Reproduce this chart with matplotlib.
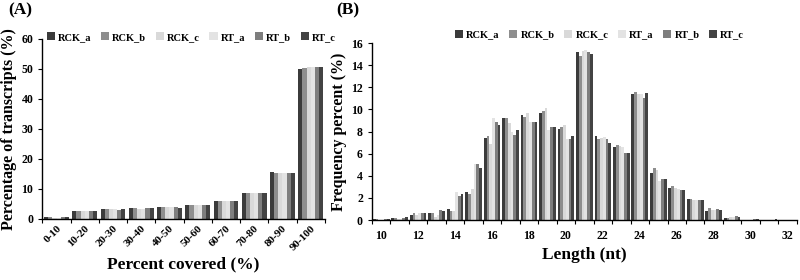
import matplotlib
matplotlib.use("Agg")
import matplotlib.pyplot as plt
import numpy as np

plt.rcParams["font.family"] = ["Liberation Serif", "DejaVu Serif"]
plt.rcParams["font.weight"] = "bold"
plt.rcParams["axes.labelweight"] = "bold"

series = ["RCK_a", "RCK_b", "RCK_c", "RT_a", "RT_b", "RT_c"]
colors = ["#3b3b3b", "#8e8e8e", "#d9d9d9", "#e3e3e3", "#7e7e7e", "#434343"]

# Panel A: coverage bins
cover_bins = ["0-10", "10-20", "20-30", "30-40", "40-50",
              "50-60", "60-70", "70-80", "80-90", "90-100"]
cover_vals = {
    "RCK_a": [0.7, 2.7, 3.2, 3.5, 4.0, 4.8, 6.1, 8.8, 15.5, 50.0],
    "RCK_b": [0.6, 2.7, 3.2, 3.5, 4.0, 4.6, 6.1, 8.7, 15.3, 50.3],
    "RCK_c": [0.3, 2.6, 3.2, 3.4, 3.9, 4.6, 6.0, 8.6, 15.2, 50.6],
    "RT_a":  [0.3, 2.6, 3.2, 3.4, 3.9, 4.6, 6.0, 8.6, 15.2, 50.8],
    "RT_b":  [0.6, 2.6, 3.1, 3.5, 3.9, 4.6, 5.9, 8.7, 15.3, 50.8],
    "RT_c":  [0.8, 2.7, 3.2, 3.5, 3.8, 4.6, 6.1, 8.7, 15.3, 50.8],
}

# Panel B: length distribution
lengths = list(range(10, 33))
len_vals = {
    "RCK_a": [0.10, 0.15, 0.5, 0.65, 1.0, 2.5, 7.4, 9.2, 9.5, 9.7, 8.2, 15.2, 7.6, 6.6, 11.4, 4.3, 2.9, 1.9, 0.8, 0.2, 0.05, 0.02, 0.0],
    "RCK_b": [0.10, 0.20, 0.6, 0.60, 0.8, 2.4, 7.6, 9.2, 9.3, 9.9, 8.4, 14.8, 7.3, 6.8, 11.6, 4.7, 3.1, 1.9, 1.1, 0.2, 0.05, 0.02, 0.0],
    "RCK_c": [0.05, 0.10, 0.5, 0.30, 0.8, 2.8, 6.9, 8.8, 9.7, 10.1, 8.6, 15.3, 7.4, 6.7, 11.4, 4.5, 2.9, 1.8, 0.9, 0.3, 0.05, 0.02, 0.0],
    "RT_a":  [0.05, 0.10, 0.6, 0.50, 2.5, 5.1, 9.2, 8.0, 8.9, 8.1, 7.3, 15.4, 7.5, 6.6, 11.4, 3.5, 2.8, 1.8, 0.9, 0.3, 0.05, 0.02, 0.0],
    "RT_b":  [0.10, 0.20, 0.6, 0.90, 2.2, 5.1, 8.9, 7.7, 8.9, 8.4, 7.3, 15.2, 7.3, 6.1, 11.0, 3.7, 2.7, 1.8, 1.0, 0.4, 0.10, 0.05, 0.0],
    "RT_c":  [0.10, 0.25, 0.6, 0.80, 2.4, 4.7, 8.6, 8.1, 8.9, 8.4, 7.6, 15.0, 7.0, 6.1, 11.5, 3.7, 2.7, 1.8, 0.9, 0.3, 0.10, 0.08, 0.0],
}

fig = plt.figure(figsize=(8, 2.8), dpi=100)
axA = fig.add_axes([0.053, 0.218, 0.353, 0.643])
axB = fig.add_axes([0.465, 0.214, 0.531, 0.632])


def grouped_bars(ax, n, vals, width=0.88):
    bw = width / len(series)
    x = np.arange(n)
    for i, s in enumerate(series):
        ax.bar(x - width / 2 + bw * (i + 0.5), vals[s], bw,
               color=colors[i], label=s, linewidth=0)
    return x


def style_axis(ax):
    for side in ["top", "right"]:
        ax.spines[side].set_visible(False)
    ax.spines["left"].set_linewidth(1.0)
    ax.spines["bottom"].set_linewidth(1.0)
    ax.tick_params(axis="y", direction="out", length=3, labelsize=8.5)
    ax.tick_params(axis="x", which="major", direction="out", length=3, labelbottom=False)
    ax.tick_params(axis="x", which="minor", length=0, labelsize=8.5)


# Panel A
xa = grouped_bars(axA, len(cover_bins), cover_vals)
axA.set_xlim(-0.5, len(cover_bins) - 0.5)
axA.set_ylim(0, 60)
axA.set_yticks(range(0, 61, 10))
style_axis(axA)
axA.set_xticks(np.arange(-0.5, len(cover_bins), 1.0))
axA.set_xticks(xa, minor=True)
axA.set_xticklabels(cover_bins, minor=True, rotation=45, ha="right",
                    rotation_mode="anchor", fontsize=8)
axA.set_xlabel("Percent covered (%)", fontsize=12.5, labelpad=3)
axA.set_ylabel("Percentage of transcripts (%)", fontsize=11.5, labelpad=3)
axA.legend(loc="upper left", bbox_to_anchor=(0.0, 1.06), ncol=6, frameon=False,
           fontsize=7.5, handlelength=0.8, handleheight=0.8, handletextpad=0.3,
           columnspacing=0.9, borderaxespad=0)
fig.text(0.010, 0.95, "(A)", fontsize=12.5, fontweight="bold")

# Panel B
xb = grouped_bars(axB, len(lengths), len_vals, width=0.9)
axB.set_xlim(-0.5, len(lengths) - 0.5)
axB.set_ylim(0, 16)
axB.set_yticks(range(0, 17, 2))
style_axis(axB)
axB.set_xticks(np.arange(-0.5, len(lengths), 1.0))
axB.set_xticks(xb[::2], minor=True)
axB.set_xticklabels([str(v) for v in lengths[::2]], minor=True)
axB.tick_params(axis="x", which="minor", pad=7)
axB.set_xlabel("Length (nt)", fontsize=12.5, labelpad=4)
axB.set_ylabel("Frequency percent (%)", fontsize=11.5, labelpad=3)
axB.legend(loc="upper left", bbox_to_anchor=(0.185, 1.1), ncol=6, frameon=False,
           fontsize=7.5, handlelength=0.8, handleheight=0.8, handletextpad=0.3,
           columnspacing=0.9, borderaxespad=0)
fig.text(0.42, 0.95, "(B)", fontsize=12.5, fontweight="bold")

fig.savefig("out.png", dpi=100)
